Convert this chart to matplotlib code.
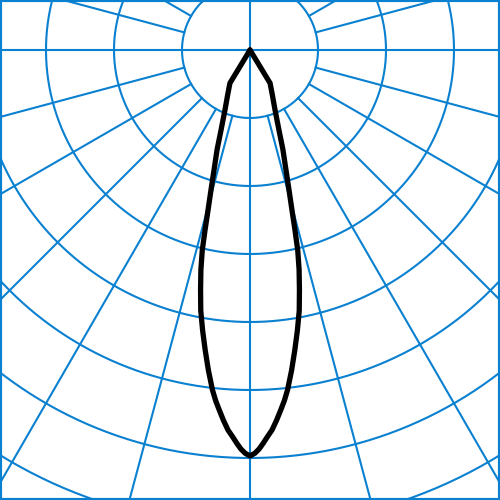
import numpy as np
import matplotlib
matplotlib.use("Agg")
import matplotlib.pyplot as plt

# Luminous intensity distribution (symmetric), angle from nadir in degrees
angles = [0, 0.7, 1.3, 1.9, 2.6, 3.3, 4.1, 4.9, 5.6, 6.3, 7.4, 8.5, 9.6, 10.7,
          11.65, 12.6, 13.4, 14.0, 14.7, 15.6, 16.7, 18.3, 19.9, 22.6, 26.4,
          31.2, 35, 45, 60, 75, 90]
intensity = [597, 593, 587, 579, 569, 560, 546, 531, 518, 503, 475, 446, 418,
             390, 360, 331, 303, 274, 243, 213, 184, 154, 125, 96, 74,
             57, 0, 0, 0, 0, 0]

ring_values = [100, 200, 300, 400, 500, 600, 700, 800]
spoke_angles = list(range(0, 360, 15))

GRID = "#0a80d0"

fig = plt.figure(figsize=(5, 5), dpi=100)
ax = fig.add_axes([0, 0, 1, 1])

# grid circles
t = np.linspace(0, 2 * np.pi, 721)
for r in ring_values:
    ax.plot(r * np.sin(t), r * np.cos(t), color=GRID, lw=1.5, zorder=1)

# spokes
for a in spoke_angles:
    rad = np.deg2rad(a)
    r0 = 0 if a % 90 == 0 else ring_values[0]
    r1 = 2000
    ax.plot([r0 * np.sin(rad), r1 * np.sin(rad)],
            [-r0 * np.cos(rad), -r1 * np.cos(rad)], color=GRID, lw=1.5, zorder=1)

# curve: right half then left half (mirror)
ang = np.array(angles, dtype=float)
val = np.array(intensity, dtype=float)
th = np.concatenate([-ang[::-1], ang[1:]])
rr = np.concatenate([val[::-1], val[1:]])
thr = np.deg2rad(th)
ax.plot(rr * np.sin(thr), -rr * np.cos(thr), color="black", lw=3.8,
        solid_joinstyle="round", solid_capstyle="round", zorder=3)

s = 100 / 68.0
ax.set_xlim(-250 * s, 250 * s)
ax.set_ylim(-450 * s, 50 * s)
ax.set_aspect("auto")
ax.set_xticks([])
ax.set_yticks([])
for sp in ax.spines.values():
    sp.set_color(GRID)
    sp.set_linewidth(3)

fig.savefig("out.png", dpi=100)
